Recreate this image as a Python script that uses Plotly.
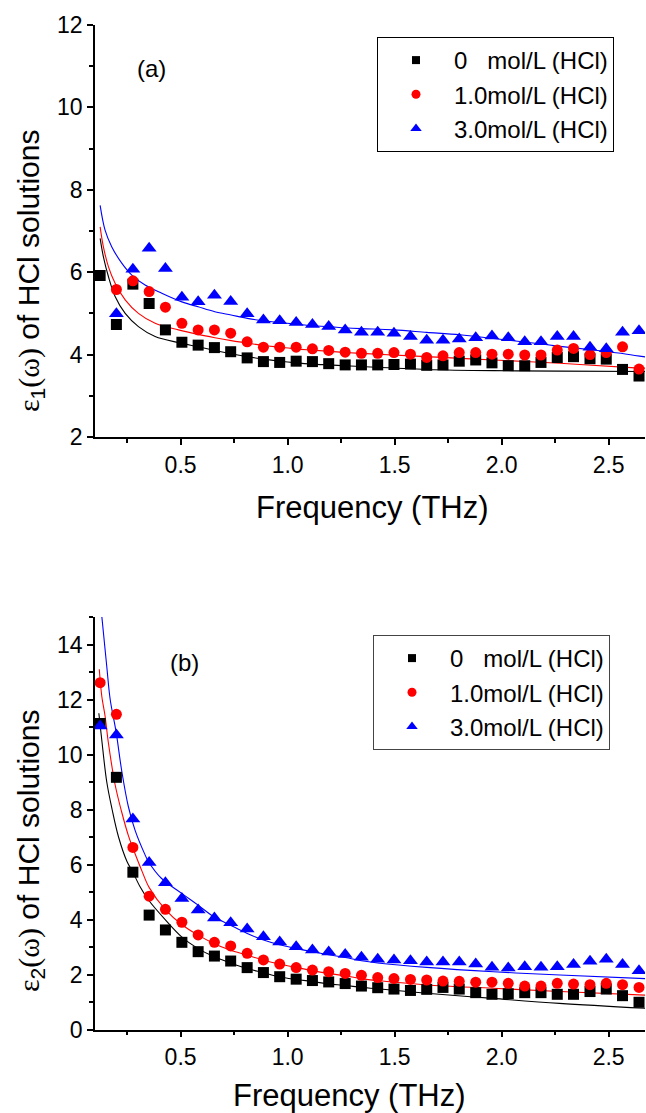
import plotly.graph_objects as go

W, H = 646, 1113

# ---------------- data ----------------
freq = [0.124, 0.200, 0.277, 0.353, 0.429, 0.506, 0.582, 0.658, 0.734, 0.811,
        0.887, 0.963, 1.040, 1.116, 1.192, 1.269, 1.345, 1.421, 1.497, 1.574,
        1.650, 1.726, 1.802, 1.879, 1.955, 2.031, 2.108, 2.184, 2.260, 2.336,
        2.413, 2.489, 2.565, 2.642]

labels = ["0\u00a0\u00a0\u00a0mol/L (HCl)", "1.0mol/L (HCl)", "3.0mol/L (HCl)"]

# panel (a): eps1
e1_0 = [5.92, 4.73, 5.71, 5.24, 4.60, 4.30, 4.23, 4.17, 4.07, 3.92, 3.83, 3.81,
        3.84, 3.83, 3.78, 3.75, 3.75, 3.75, 3.76, 3.77, 3.74, 3.75, 3.84, 3.87,
        3.80, 3.73, 3.73, 3.81, 3.93, 3.95, 3.90, 3.89, 3.64, 3.48]
e1_1 = [None, 5.58, 5.79, 5.53, 5.15, 4.76, 4.60, 4.60, 4.52, 4.31, 4.18, 4.18,
        4.18, 4.14, 4.10, 4.06, 4.03, 4.03, 4.05, 4.01, 3.93, 3.97, 4.05, 4.05,
        4.01, 4.01, 3.99, 3.99, 4.11, 4.15, 4.00, 4.05, 4.19, 3.65]
e1_3 = [None, 4.99, 6.07, 6.58, 6.09, 5.39, 5.28, 5.44, 5.29, 4.99, 4.84, 4.82,
        4.78, 4.73, 4.68, 4.60, 4.54, 4.54, 4.52, 4.44, 4.35, 4.35, 4.38, 4.41,
        4.45, 4.41, 4.31, 4.31, 4.44, 4.44, 4.18, 4.14, 4.54, 4.58]

fit1_0_x = [0.124, 0.139, 0.163, 0.194, 0.241, 0.303, 0.381, 0.490, 0.582, 0.660,
            0.736, 0.812, 0.887, 0.963, 1.040, 1.116, 1.191, 1.269, 1.345, 1.650,
            1.962, 2.273, 2.675]
fit1_0_y = [6.82, 6.38, 5.89, 5.41, 5.00, 4.68, 4.44, 4.29, 4.19, 4.10,
            4.02, 3.95, 3.89, 3.84, 3.80, 3.77, 3.75, 3.73, 3.71, 3.64,
            3.61, 3.60, 3.59]
fit1_1_x = [0.124, 0.139, 0.163, 0.194, 0.241, 0.303, 0.381, 0.490, 0.582, 0.660,
            0.736, 0.812, 0.887, 0.963, 1.040, 1.116, 1.191, 1.269, 1.345, 1.421,
            1.650, 1.962, 2.273, 2.585, 2.675]
fit1_1_y = [7.10, 6.62, 6.13, 5.73, 5.33, 5.00, 4.76, 4.60, 4.49, 4.41,
            4.34, 4.28, 4.22, 4.18, 4.14, 4.11, 4.08, 4.05, 4.03, 4.01,
            3.95, 3.87, 3.79, 3.69, 3.67]
fit1_3_x = [0.124, 0.147, 0.178, 0.225, 0.272, 0.334, 0.412, 0.506, 0.582, 0.660,
            0.736, 0.812, 0.887, 0.963, 1.040, 1.116, 1.191, 1.269, 1.345, 1.495,
            1.650, 1.806, 1.962, 2.117, 2.273, 2.429, 2.585, 2.675]
fit1_3_y = [7.62, 7.02, 6.62, 6.22, 5.93, 5.69, 5.49, 5.28, 5.16, 5.04,
            4.96, 4.88, 4.82, 4.78, 4.74, 4.70, 4.68, 4.65, 4.63, 4.60,
            4.54, 4.48, 4.39, 4.30, 4.20, 4.11, 4.01, 3.94]

# panel (b): eps2
e2_0 = [11.13, 9.17, 5.72, 4.16, 3.62, 3.17, 2.83, 2.67, 2.49, 2.25, 2.07, 1.92,
        1.83, 1.78, 1.73, 1.67, 1.58, 1.52, 1.47, 1.42, 1.46, 1.53, 1.47, 1.34,
        1.28, 1.30, 1.34, 1.34, 1.28, 1.28, 1.38, 1.47, 1.23, 0.99]
e2_1 = [12.61, 11.46, 6.62, 4.85, 4.37, 3.90, 3.44, 3.17, 3.04, 2.77, 2.53, 2.38,
        2.25, 2.16, 2.10, 2.04, 1.97, 1.89, 1.85, 1.82, 1.80, 1.76, 1.75, 1.72,
        1.72, 1.68, 1.58, 1.58, 1.68, 1.65, 1.63, 1.68, 1.63, 1.53]
e2_3 = [11.04, 10.71, 7.65, 6.07, 5.34, 4.76, 4.35, 4.05, 3.88, 3.65, 3.37, 3.18,
        3.01, 2.89, 2.82, 2.73, 2.63, 2.55, 2.53, 2.50, 2.45, 2.45, 2.45, 2.38,
        2.26, 2.24, 2.28, 2.26, 2.28, 2.36, 2.48, 2.55, 2.36, 2.14]

fit2_0_x = [0.118, 0.132, 0.155, 0.180, 0.210, 0.250, 0.275, 0.310, 0.350, 0.430,
            0.505, 0.580, 0.655, 0.730, 0.810, 0.885, 0.960, 1.040, 1.120, 1.190,
            1.270, 1.345, 1.420, 1.650, 1.960, 2.270, 2.675]
fit2_0_y = [11.50, 10.50, 9.00, 8.00, 7.00, 6.10, 5.75, 5.20, 4.71, 3.98,
            3.37, 2.95, 2.65, 2.43, 2.22, 2.07, 1.92, 1.82, 1.74, 1.66,
            1.60, 1.53, 1.48, 1.32, 1.13, 0.95, 0.77]
fit2_1_x = [0.120, 0.132, 0.147, 0.163, 0.194, 0.225, 0.256, 0.277, 0.320, 0.354,
            0.430, 0.505, 0.580, 0.655, 0.731, 0.809, 0.884, 0.962, 1.038, 1.116,
            1.191, 1.269, 1.345, 1.421, 1.650, 1.962, 2.273, 2.675]
fit2_1_y = [13.10, 12.10, 11.40, 10.40, 8.90, 7.90, 7.05, 6.60, 5.75, 5.15,
            4.35, 3.82, 3.44, 3.13, 2.89, 2.71, 2.53, 2.38, 2.26, 2.14,
            2.04, 1.95, 1.85, 1.78, 1.62, 1.50, 1.38, 1.25]
fit2_3_x = [0.127, 0.155, 0.171, 0.198, 0.225, 0.256, 0.287, 0.334, 0.350, 0.410,
            0.505, 0.580, 0.655, 0.731, 0.809, 0.884, 0.962, 1.038, 1.116, 1.191,
            1.269, 1.345, 1.421, 1.650, 1.962, 2.273, 2.675]
fit2_3_y = [15.40, 13.20, 12.00, 10.85, 9.40, 8.10, 7.25, 6.35, 6.10, 5.50,
            4.95, 4.53, 4.10, 3.80, 3.50, 3.26, 3.08, 2.95, 2.83, 2.72,
            2.62, 2.50, 2.42, 2.26, 2.10, 1.98, 1.85]

x_major = [0.5, 1.0, 1.5, 2.0, 2.5]
x_major_text = ["0.5", "1.0", "1.5", "2.0", "2.5"]
x_minor = [0.25, 0.75, 1.25, 1.75, 2.25]
y1_major = [2, 4, 6, 8, 10, 12]
y1_minor = [3, 5, 7, 9, 11]
y2_major = [0, 2, 4, 6, 8, 10, 12, 14]
y2_minor = [1, 3, 5, 7, 9, 11, 13, 15]

# ---------------- style ----------------
colors = ["#000000", "#ff0000", "#0000ff"]
symbols = ["square", "circle", "triangle-up"]
msize = [11, 11, 13]
lsize = [8, 9, 10]
FONT = "Liberation Sans, Arial, sans-serif"
SERIF = "Liberation Serif"

px_l, px_r = 95, 645
dom_x = [px_l / W, px_r / W]
top_px = (25, 437)
bot_px = (617, 1029.5)
dom_y1 = [1 - top_px[1] / H, 1 - top_px[0] / H]
dom_y2 = [1 - bot_px[1] / H, 1 - bot_px[0] / H]

fig = go.Figure()

panels = [
    ("x", "y", [e1_0, e1_1, e1_3],
     [(fit1_0_x, fit1_0_y), (fit1_1_x, fit1_1_y), (fit1_3_x, fit1_3_y)], "legend"),
    ("x2", "y2", [e2_0, e2_1, e2_3],
     [(fit2_0_x, fit2_0_y), (fit2_1_x, fit2_1_y), (fit2_3_x, fit2_3_y)], "legend2"),
]
for xa, ya, series, fits, leg in panels:
    for i in range(3):
        fx, fy = fits[i]
        fig.add_trace(go.Scatter(x=fx, y=fy, mode="lines", line=dict(color=colors[i], width=1.1, shape="spline"),
                                 xaxis=xa, yaxis=ya, showlegend=False, hoverinfo="skip"))
    for i in range(3):
        fig.add_trace(go.Scatter(x=freq, y=series[i], mode="markers",
                                 marker=dict(symbol=symbols[i], size=msize[i], color=colors[i], line=dict(width=0)),
                                 xaxis=xa, yaxis=ya, showlegend=False, cliponaxis=True))
    for i in range(3):
        fig.add_trace(go.Scatter(x=[None], y=[None], mode="markers", name=labels[i],
                                 marker=dict(symbol=symbols[i], size=lsize[i], color=colors[i]),
                                 xaxis=xa, yaxis=ya, showlegend=True, legend=leg))

axis_common = dict(showgrid=False, zeroline=False, showline=True, linecolor="black", linewidth=1.8,
                   tickcolor="black", tickwidth=1.5, automargin=False,
                   tickfont=dict(family=FONT, size=23, color="black"))

def xaxis(anchor, side="bottom", overlay=None):
    d = dict(axis_common, domain=dom_x, range=[0.1, 2.67], anchor=anchor,
             tickmode="array", tickvals=x_major, ticktext=x_major_text,
             minor=dict(tickmode="array", tickvals=x_minor, ticklen=4 if side == "bottom" else 5,
                        ticks="outside" if side == "bottom" else "inside", tickcolor="black", tickwidth=1.5),
             ticks="outside" if side == "bottom" else "inside", ticklen=6 if side == "bottom" else 8, side=side)
    if overlay:
        d.update(overlaying=overlay, showticklabels=False)
    return d

def yaxis(anchor, dom, rng, major, minor, side="left", overlay=None):
    d = dict(axis_common, domain=dom, range=rng, anchor=anchor,
             tickmode="array", tickvals=major, ticktext=[str(v) for v in major],
             minor=dict(tickmode="array", tickvals=minor, ticklen=4 if side == "left" else 5,
                        ticks="outside" if side == "left" else "inside", tickcolor="black", tickwidth=1.5),
             ticks="outside" if side == "left" else "inside", ticklen=6 if side == "left" else 8, side=side)
    if overlay:
        d.update(overlaying=overlay, showticklabels=False)
    return d

fig.update_layout(
    xaxis=xaxis("y"),
    yaxis=yaxis("x", dom_y1, [2, 12], y1_major, y1_minor),
    xaxis2=xaxis("y2"),
    yaxis2=yaxis("x2", dom_y2, [0, 15], y2_major, y2_minor),
    xaxis3=xaxis("y", side="top", overlay="x"),
    yaxis3=yaxis("x", dom_y1, [2, 12], y1_major, y1_minor, side="right", overlay="y"),
    xaxis4=xaxis("y2", side="top", overlay="x2"),
    yaxis4=yaxis("x2", dom_y2, [0, 15], y2_major, y2_minor, side="right", overlay="y2"),
)

leg_common = dict(xanchor="left", yanchor="top", bgcolor="white", borderwidth=1,
                  font=dict(family=FONT, size=24, color="black"), itemwidth=66,
                  tracegroupgap=0, xref="paper", yref="paper")
fig.update_layout(
    legend=dict(leg_common, x=377 / W, y=1 - 37 / H, bordercolor="black"),
    legend2=dict(leg_common, x=373 / W, y=1 - 635 / H, bordercolor="#444444"),
)

ytitle = ('<span style="font-family:' + SERIF + '">ε</span><sub>{n}</sub>'
          '<span style="font-family:' + SERIF + '">(ω)</span> of HCl solutions')
ann = [
    dict(text="(a)", x=151 / W, y=1 - 69 / H, font=dict(size=24)),
    dict(text="(b)", x=184 / W, y=1 - 663 / H, font=dict(size=24)),
    dict(text="Frequency (THz)", x=372 / W, y=1 - 508 / H, font=dict(size=31)),
    dict(text="Frequency (THz)", x=349 / W, y=1 - 1095 / H, font=dict(size=31)),
    dict(text=ytitle.format(n=1), x=30 / W, y=1 - 271 / H, font=dict(size=30), textangle=-90),
    dict(text=ytitle.format(n=2), x=30 / W, y=1 - 851 / H, font=dict(size=30), textangle=-90),
]
for a in ann:
    a.update(xref="paper", yref="paper", showarrow=False, xanchor="center", yanchor="middle")
    a["font"].update(family=FONT, color="black")
fig.update_layout(annotations=ann, width=W, height=H, margin=dict(l=0, r=0, t=0, b=0),
                  paper_bgcolor="white", plot_bgcolor="white", showlegend=True)

fig.write_html("out.html", include_plotlyjs=True, config={"displayModeBar": False})
